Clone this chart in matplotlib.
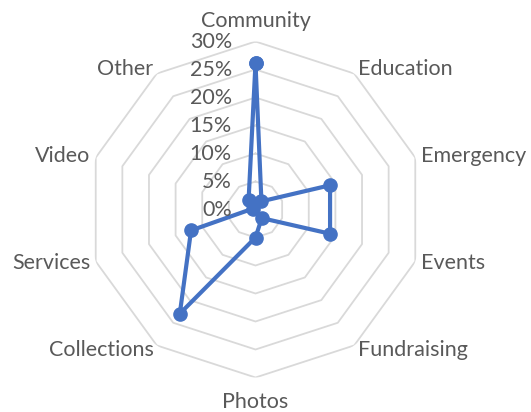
import numpy as np
import matplotlib
matplotlib.use("Agg")
import matplotlib.pyplot as plt

categories = ["Community", "Education", "Emergency", "Events", "Fundraising",
              "Photos", "Collections", "Services", "Video", "Other"]
values = [26.1, 1.8, 14.0, 14.0, 1.9, 5.0, 23.0, 12.1, 0.5, 2.1]
tick_values = [0, 5, 10, 15, 20, 25, 30]
tick_labels = ["0%", "5%", "10%", "15%", "20%", "25%", "30%"]

plt.rcParams['font.family'] = ['Lato', 'DejaVu Sans']
text_color = "#595959"
grid_color = "#d9d9d9"
line_color = "#4472C4"

W, H = 531, 412
fig = plt.figure(figsize=(W / 100, H / 100), dpi=100)
cx, cy, R = 255.5, 209.5, 168.0
ax = fig.add_axes([(cx - R) / W, (H - cy - R) / H, 2 * R / W, 2 * R / H], projection='polar')
ax.set_theta_offset(np.pi / 2)
ax.set_theta_direction(-1)
ax.set_ylim(0, 30)
ax.grid(False)
ax.spines['polar'].set_visible(False)
ax.set_xticks([])
ax.set_yticks([])
ax.patch.set_visible(False)

n = len(categories)
angles = np.arange(n) * 2 * np.pi / n
closed_angles = np.append(angles, angles[0])

for v in tick_values[1:]:
    ax.plot(closed_angles, [v] * (n + 1), color=grid_color, lw=1.3, zorder=1)

vals = np.append(values, values[0])
ax.plot(closed_angles, vals, color=line_color, lw=3.0, marker='o', markersize=9.5,
        zorder=3, solid_joinstyle='round')

for v, lab in zip(tick_values, tick_labels):
    ax.annotate(lab, xy=(0, v), xytext=(-17, 0), textcoords='offset points',
                ha='right', va='center', fontsize=15.5, color=text_color, zorder=4)

for ang, cat in zip(angles, categories):
    s = np.sin(ang)
    c = np.cos(ang)
    r = 31.0
    if abs(s) < 1e-6:
        ha = 'center'
        va = 'bottom' if c > 0 else 'top'
        r = 31.9 if c > 0 else 32.6
    else:
        ha = 'left' if s > 0 else 'right'
        va = 'center'
    ax.text(ang, r, cat, ha=ha, va=va, fontsize=15.5, color=text_color)

fig.savefig("out.png", dpi=100)
